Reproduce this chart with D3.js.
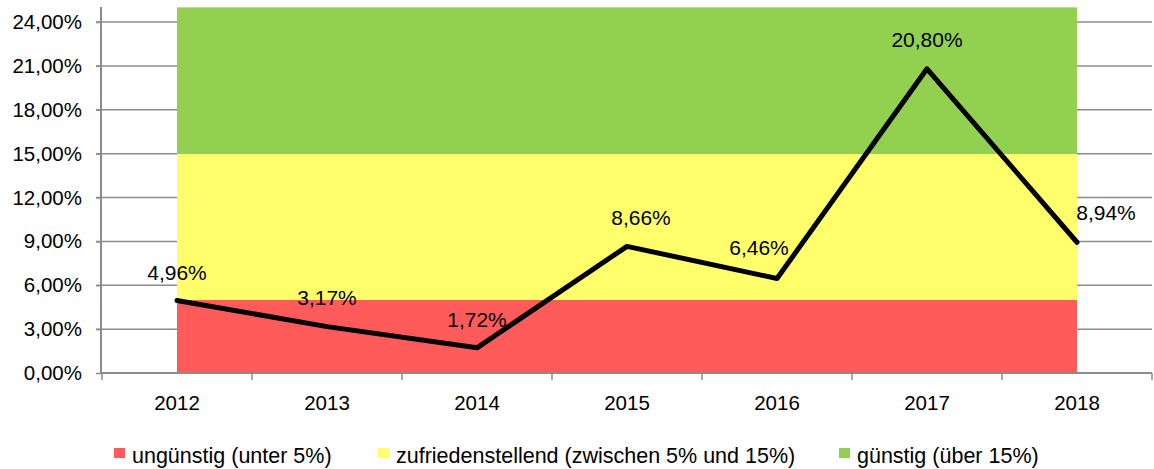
<!DOCTYPE html>
<html>
<head>
<meta charset="utf-8">
<script src="https://cdn.jsdelivr.net/npm/d3@7"></script>
<style>
  body { margin: 0; background: #fff; }
  text { font-family: "Liberation Sans", Arial, sans-serif; fill: #000; }
</style>
</head>
<body>
<svg id="chart" width="1154" height="469"></svg>
<script>
const years = ['2012', '2013', '2014', '2015', '2016', '2017', '2018']
const values = [4.96, 3.17, 1.72, 8.66, 6.46, 20.80, 8.94]
const yTicks = [0, 3, 6, 9, 12, 15, 18, 21, 24]
const bandNames = ['ungünstig (unter 5%)', 'zufriedenstellend (zwischen 5% und 15%)', 'günstig (über 15%)']
const bandFrom = [0, 5, 15]
const bandTo = [5, 15, 25]
const bandColors = ['#ff5b5b', '#ffff6b', '#92d050']

// label nudges (px) where labels were moved by hand in the original
const labelDx = [0, 0, 0, 14, -18, 0, 29]
const labelDy = [-28, -29, -28, -29, -31, -29, -30]

const svg = d3.select('#chart')
const fmt = v => v.toFixed(2).replace('.', ',') + '%'

const x = d3.scaleBand().domain(years).range([102, 1152])
const y = d3.scaleLinear().domain([0, 24]).range([373, 22])
const cx = d => x(d) + x.bandwidth() / 2

// gridlines
svg.append('g').selectAll('line')
  .data(yTicks.filter(t => t > 0))
  .join('line')
  .attr('x1', 96).attr('x2', 1152)
  .attr('y1', d => y(d)).attr('y2', d => y(d))
  .attr('stroke', '#8c8c8c').attr('stroke-width', 1.5)

// colored bands between first and last year
svg.append('g').selectAll('rect')
  .data(bandFrom)
  .join('rect')
  .attr('x', cx(years[0]))
  .attr('width', cx(years[years.length - 1]) - cx(years[0]))
  .attr('y', (d, i) => y(bandTo[i]))
  .attr('height', (d, i) => y(bandFrom[i]) - y(bandTo[i]))
  .attr('fill', (d, i) => bandColors[i])

// y axis
const yAxis = d3.axisLeft(y).tickValues(yTicks).tickSize(5).tickPadding(14).tickFormat(fmt)
const gy = svg.append('g').attr('transform', 'translate(101,0)').call(yAxis)
gy.select('.domain').attr('stroke', '#8c8c8c').attr('stroke-width', 2)
  .attr('d', `M0,${y(0)}V7`)
gy.selectAll('.tick line').attr('stroke', '#8c8c8c').attr('stroke-width', 1.5)
gy.selectAll('text').attr('font-size', 20.5).attr('fill', '#000')

// x axis
const xAxis = d3.axisBottom(x).tickSize(0).tickPadding(22)
const gx = svg.append('g').attr('transform', `translate(0,${y(0)})`).call(xAxis)
gx.select('.domain').attr('stroke', '#8c8c8c').attr('stroke-width', 2).attr('d', 'M101,0H1152')
gx.selectAll('text').attr('font-size', 20.5).attr('fill', '#000')
gx.append('g').selectAll('line')
  .data(years.concat(['end']))
  .join('line')
  .attr('x1', (d, i) => 102 + i * x.step()).attr('x2', (d, i) => 102 + i * x.step())
  .attr('y1', 0).attr('y2', 7)
  .attr('stroke', '#8c8c8c').attr('stroke-width', 1.5)

// line
const line = d3.line().x((d, i) => cx(years[i])).y(d => y(d))
svg.append('path')
  .datum(values)
  .attr('d', line)
  .attr('fill', 'none')
  .attr('stroke', '#000')
  .attr('stroke-width', 5)
  .attr('stroke-linejoin', 'round')
  .attr('stroke-linecap', 'round')

// value labels
svg.append('g').selectAll('text')
  .data(values)
  .join('text')
  .attr('x', (d, i) => cx(years[i]) + labelDx[i])
  .attr('y', (d, i) => y(d) + labelDy[i])
  .attr('dy', '0.35em')
  .attr('text-anchor', 'middle')
  .attr('font-size', 21)
  .text(fmt)

// legend
const legendX = [114, 378, 839]
const lg = svg.append('g').selectAll('g')
  .data(bandNames)
  .join('g')
  .attr('transform', (d, i) => `translate(${legendX[i]},448)`)
lg.append('rect').attr('width', 11).attr('height', 10).attr('fill', (d, i) => bandColors[i])
lg.append('text').attr('x', 18).attr('y', 15).attr('font-size', 21.5).text(d => d)
</script>
</body>
</html>
